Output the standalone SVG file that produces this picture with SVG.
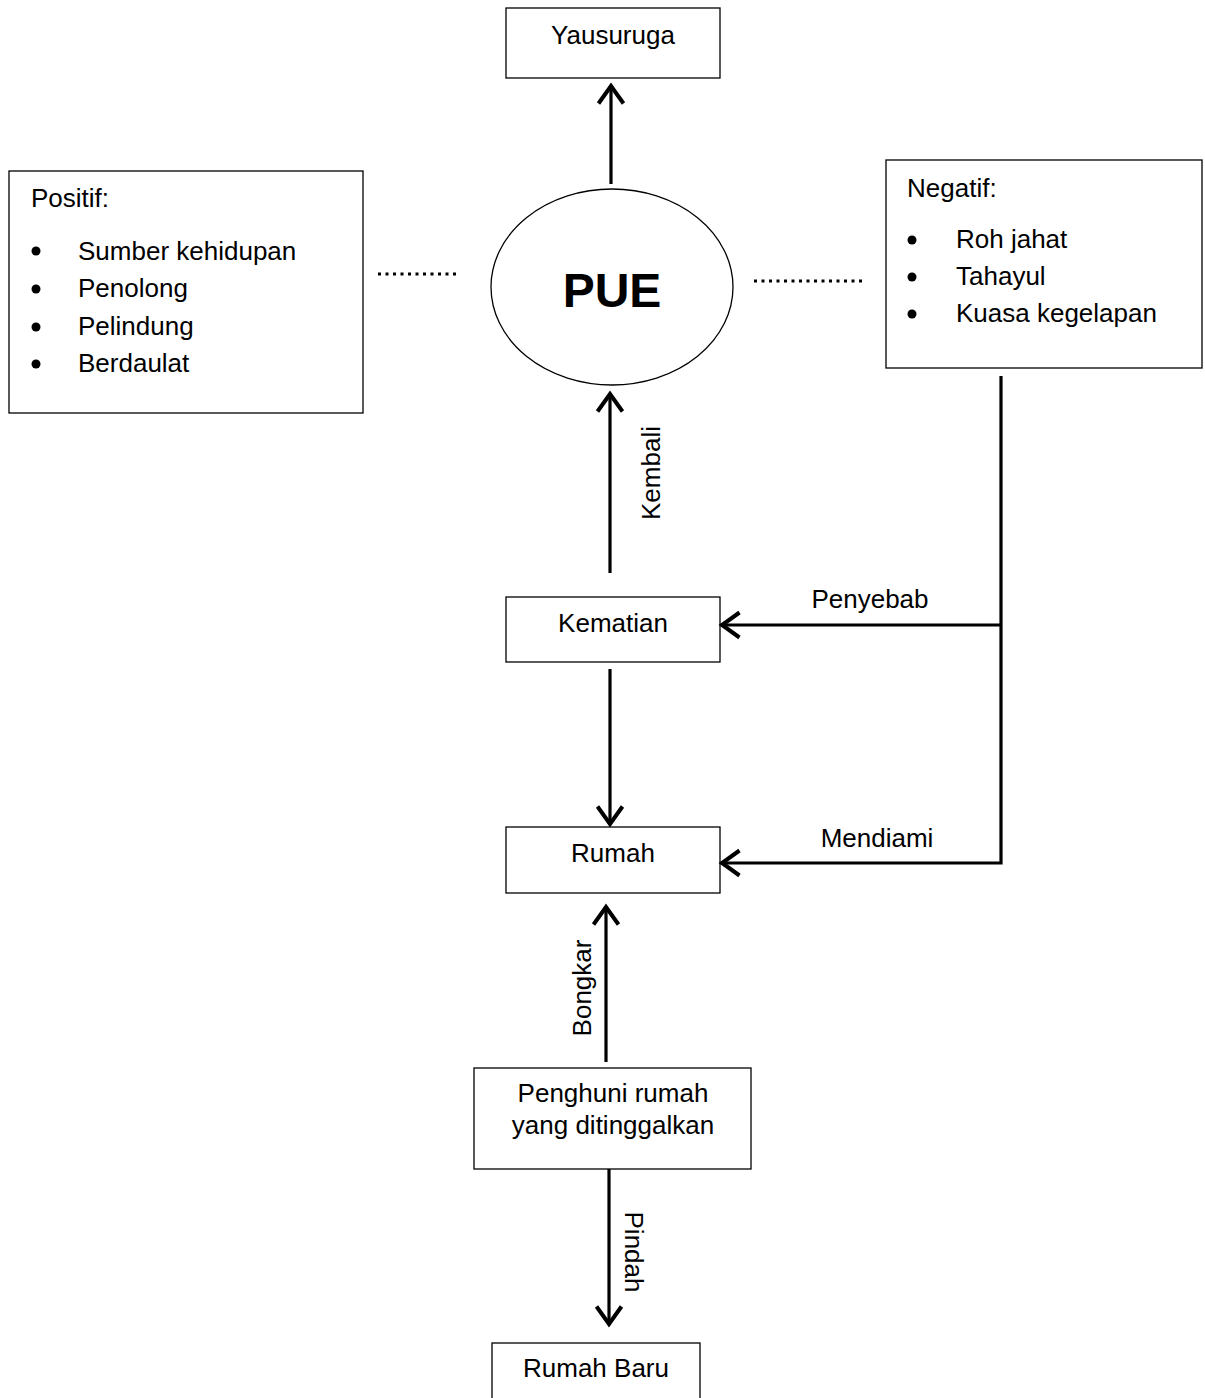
<svg xmlns="http://www.w3.org/2000/svg" width="1205" height="1398" viewBox="0 0 1205 1398">
<style>
text{font-family:"Liberation Sans",Arial,sans-serif;font-size:26px;fill:#000}
.box{fill:#fff;stroke:#000;stroke-width:1.3}
.c{text-anchor:middle}
.con{stroke:#000;stroke-width:3.2;fill:none}
.dot{stroke:#000;stroke-width:3;stroke-dasharray:3 4.5;fill:none}
</style>
<defs>
<marker id="ah" markerUnits="userSpaceOnUse" markerWidth="30" markerHeight="30" viewBox="-18 -12 22 24" refX="0" refY="0" orient="auto">
<path d="M-14,-10 L0,0 L-14,10" fill="none" stroke="#000" stroke-width="3.2"/>
</marker>
</defs>
<rect width="1205" height="1398" fill="#fff"/>

<g id="yausuruga"><rect class="box" x="506" y="8" width="214" height="70"/><text class="c" x="613" y="44">Yausuruga</text></g>

<g id="pue"><ellipse cx="612" cy="287" rx="121" ry="98" fill="#fff" stroke="#000" stroke-width="1.3"/><text class="c" x="612" y="307" style="font-size:48px;font-weight:bold">PUE</text></g>

<g id="positif"><rect class="box" x="9" y="171" width="354" height="242"/>
<text x="31" y="207">Positif:</text>
<circle cx="36" cy="251" r="4.5"/><text x="78" y="260">Sumber kehidupan</text>
<circle cx="36" cy="289" r="4.5"/><text x="78" y="297">Penolong</text>
<circle cx="36" cy="327" r="4.5"/><text x="78" y="335">Pelindung</text>
<circle cx="36" cy="364" r="4.5"/><text x="78" y="372">Berdaulat</text>
</g>

<g id="negatif"><rect class="box" x="886" y="160" width="316" height="208"/>
<text x="907" y="197">Negatif:</text>
<circle cx="912" cy="240" r="4.5"/><text x="956" y="248">Roh jahat</text>
<circle cx="912" cy="277" r="4.5"/><text x="956" y="285">Tahayul</text>
<circle cx="912" cy="314" r="4.5"/><text x="956" y="322">Kuasa kegelapan</text>
</g>

<g id="kematian"><rect class="box" x="506" y="597" width="214" height="65"/><text class="c" x="613" y="632">Kematian</text></g>
<g id="rumah"><rect class="box" x="506" y="827" width="214" height="66"/><text class="c" x="613" y="862">Rumah</text></g>
<g id="penghuni"><rect class="box" x="474" y="1068" width="277" height="101"/><text class="c" x="613" y="1102">Penghuni rumah</text><text class="c" x="613" y="1134">yang ditinggalkan</text></g>
<g id="rumahbaru"><rect class="box" x="492" y="1343" width="208" height="70"/><text class="c" x="596" y="1377">Rumah Baru</text></g>

<g id="connectors">
<line class="con" x1="611" y1="184" x2="611" y2="86" marker-end="url(#ah)"/>
<line class="con" x1="610" y1="573" x2="610" y2="394" marker-end="url(#ah)"/>
<line class="con" x1="610" y1="669" x2="610" y2="824" marker-end="url(#ah)"/>
<line class="con" x1="606" y1="1062" x2="606" y2="907" marker-end="url(#ah)"/>
<line class="con" x1="609" y1="1169" x2="609" y2="1324" marker-end="url(#ah)"/>
<polyline class="con" points="1001,376 1001,863 722,863" marker-end="url(#ah)"/>
<line class="con" x1="1001" y1="625" x2="722" y2="625" marker-end="url(#ah)"/>
<line class="dot" x1="378" y1="274" x2="460" y2="274"/>
<line class="dot" x1="754" y1="281" x2="862" y2="281"/>
<text transform="translate(660,473) rotate(-90)" class="c">Kembali</text>
<text transform="translate(591,988) rotate(-90)" class="c">Bongkar</text>
<text transform="translate(625,1252) rotate(90)" class="c">Pindah</text>
<text class="c" x="870" y="608">Penyebab</text>
<text class="c" x="877" y="847">Mendiami</text>
</g>
</svg>
